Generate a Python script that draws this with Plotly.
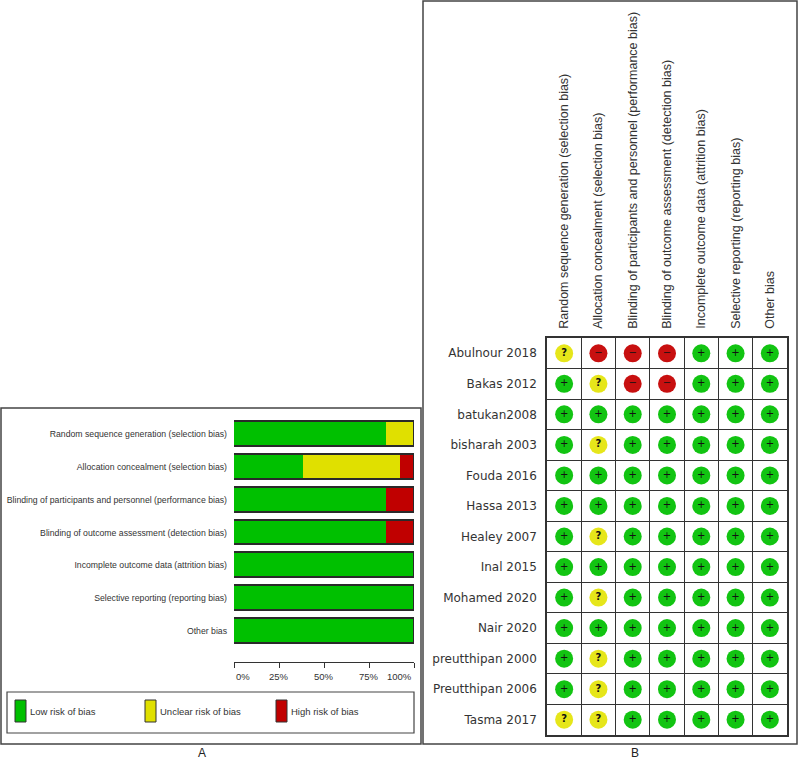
import plotly.graph_objects as go

W, H = 798, 761

domains = [
    "Random sequence generation (selection bias)",
    "Allocation concealment (selection bias)",
    "Blinding of participants and personnel (performance bias)",
    "Blinding of outcome assessment (detection bias)",
    "Incomplete outcome data (attrition bias)",
    "Selective reporting (reporting bias)",
    "Other bias",
]

studies = [
    "Abulnour 2018", "Bakas 2012", "batukan2008", "bisharah 2003", "Fouda 2016",
    "Hassa 2013", "Healey 2007", "Inal 2015", "Mohamed 2020", "Nair 2020",
    "preutthipan 2000", "Preutthipan 2006", "Tasma 2017",
]

# L = low, U = unclear, H = high (one row per study, one column per domain)
judgements = [
    ["U", "H", "H", "H", "L", "L", "L"],
    ["L", "U", "H", "H", "L", "L", "L"],
    ["L", "L", "L", "L", "L", "L", "L"],
    ["L", "U", "L", "L", "L", "L", "L"],
    ["L", "L", "L", "L", "L", "L", "L"],
    ["L", "L", "L", "L", "L", "L", "L"],
    ["L", "U", "L", "L", "L", "L", "L"],
    ["L", "L", "L", "L", "L", "L", "L"],
    ["L", "U", "L", "L", "L", "L", "L"],
    ["L", "L", "L", "L", "L", "L", "L"],
    ["L", "U", "L", "L", "L", "L", "L"],
    ["L", "U", "L", "L", "L", "L", "L"],
    ["U", "U", "L", "L", "L", "L", "L"],
]

levels = ["L", "U", "H"]
level_names = {"L": "Low risk of bias", "U": "Unclear risk of bias", "H": "High risk of bias"}
bar_colors = {"L": "#00c000", "U": "#e0e000", "H": "#c00000"}
dot_colors = {"L": "#12c412", "U": "#e6e61a", "H": "#c81010"}
dot_text = {"L": "+", "U": "<b>?</b>", "H": "−"}
pct_ticks = [0, 25, 50, 75, 100]


def px_x(p):
    return p / W


def px_y(p):
    return 1 - p / H


n_st = len(studies)
pct = {lv: [sum(1 for row in judgements if row[j] == lv) / n_st * 100 for j in range(len(domains))]
       for lv in levels}

fig = go.Figure()

# panel A: summary bars
for lv in levels:
    fig.add_trace(go.Bar(
        x=pct[lv], y=list(range(len(domains))), orientation="h",
        marker=dict(color=bar_colors[lv], line=dict(width=0)),
        width=0.76, xaxis="x", yaxis="y", showlegend=False, hoverinfo="x+name",
        name=level_names[lv],
    ))
# outline of each full bar on an overlaid axis
fig.add_trace(go.Bar(
    x=[100] * len(domains), y=list(range(len(domains))), orientation="h",
    marker=dict(color="rgba(0,0,0,0)", line=dict(color="#2a2a2a", width=1.5)),
    width=0.76, xaxis="x3", yaxis="y", showlegend=False, hoverinfo="skip",
))

# panel B: traffic lights
for lv in levels:
    xs, ys = [], []
    for i, row in enumerate(judgements):
        for j, v in enumerate(row):
            if v == lv:
                xs.append(j)
                ys.append(i)
    fig.add_trace(go.Scatter(
        x=xs, y=ys, mode="markers+text", xaxis="x2", yaxis="y2",
        marker=dict(color=dot_colors[lv], size=18, line=dict(width=0)),
        text=[dot_text[lv]] * len(xs), textposition="middle center",
        textfont=dict(family="DejaVu Sans", size=10, color="#111"),
        showlegend=False, name=level_names[lv],
    ))

narrow = "Liberation Sans, Arial"
fs_a = 8.7

fig.update_layout(
    width=W, height=H, margin=dict(l=0, r=0, t=0, b=0),
    paper_bgcolor="white", plot_bgcolor="white",
    barmode="stack", bargap=0,
    font=dict(family=narrow, size=fs_a, color="#333"),
    xaxis=dict(domain=[px_x(234), px_x(414)], range=[0, 100], anchor="free",
               position=px_y(662), showline=True, linecolor="#333", linewidth=1,
               tickvals=pct_ticks, showticklabels=False, ticks="outside", ticklen=5,
               tickcolor="#333", showgrid=False, zeroline=False, fixedrange=True,
               automargin=False),
    xaxis3=dict(domain=[px_x(234), px_x(414)], range=[0, 100], overlaying="x",
                visible=False, fixedrange=True, automargin=False),
    yaxis=dict(domain=[px_y(647.5), px_y(417.5)], range=[len(domains) - 0.5, -0.5],
               tickvals=list(range(len(domains))), ticktext=domains, ticks="",
               ticklabelstandoff=6, showgrid=False, zeroline=False,
               tickfont=dict(family=narrow, size=fs_a, color="#333"), anchor="x",
               fixedrange=True, automargin=False),
    xaxis2=dict(domain=[px_x(547), px_x(787)], range=[-0.5, len(domains) - 0.5],
                side="top", anchor="y2", tickvals=list(range(len(domains))),
                ticktext=domains, tickangle=-90, ticks="", ticklabelstandoff=5,
                tickfont=dict(family="Liberation Sans, Arial", size=12.5, color="#333"),
                showgrid=False, zeroline=False, showline=True, mirror=True,
                linecolor="#333", linewidth=1.5,
                minor=dict(tick0=0.5, dtick=1, showgrid=True, gridcolor="#333",
                           gridwidth=1), fixedrange=True, automargin=False),
    yaxis2=dict(domain=[px_y(735), px_y(338)], range=[n_st - 0.5, -0.5], anchor="x2",
                tickvals=list(range(n_st)), ticktext=studies, ticks="",
                ticklabelstandoff=6,
                tickfont=dict(family="DejaVu Sans, Verdana", size=12, color="#333"),
                showgrid=False, zeroline=False, showline=True, mirror=True,
                linecolor="#333", linewidth=1.5,
                minor=dict(tick0=0.5, dtick=1, showgrid=True, gridcolor="#333",
                           gridwidth=1), fixedrange=True, automargin=False),
)

# percentage tick labels (first left-aligned, last right-aligned, like the original)
for k, t in enumerate(pct_ticks):
    anchor = "left" if k == 0 else ("right" if k == len(pct_ticks) - 1 else "center")
    fig.add_annotation(x=t, y=px_y(676), xref="x", yref="paper", text=f"{t}%",
                       showarrow=False, xanchor=anchor, yanchor="middle",
                       font=dict(family=narrow, size=9.5, color="#333"))

# panel frames
fig.add_shape(type="rect", xref="paper", yref="paper", x0=px_x(1), x1=px_x(421),
              y0=px_y(744), y1=px_y(408), line=dict(color="#444", width=1.5))
fig.add_shape(type="rect", xref="paper", yref="paper", x0=px_x(423), x1=px_x(797),
              y0=px_y(744), y1=px_y(1), line=dict(color="#444", width=1.5))

# legend box of panel A
fig.add_shape(type="rect", xref="paper", yref="paper", x0=px_x(7), x1=px_x(414),
              y0=px_y(733), y1=px_y(692), line=dict(color="#444", width=1.2))
for lv, sx in zip(levels, [15, 145, 276]):
    fig.add_shape(type="rect", xref="paper", yref="paper", x0=px_x(sx), x1=px_x(sx + 11),
                  y0=px_y(722), y1=px_y(700), fillcolor=bar_colors[lv],
                  line=dict(color="#333", width=1))
    fig.add_annotation(x=px_x(sx + 13), y=px_y(711), xref="paper", yref="paper",
                       text=level_names[lv], showarrow=False, xanchor="left",
                       yanchor="middle", font=dict(family=narrow, size=9.5, color="#333"))

for lbl, lx in (("A", 197), ("B", 640)):
    fig.add_annotation(x=px_x(lx), y=px_y(745), xref="paper", yref="paper", text=lbl,
                       showarrow=False, yanchor="top", borderpad=0,
                       font=dict(family="Liberation Sans, Arial", size=12, color="#222"))

# drop the page's default 8px body margin so the figure sits at the window origin
fig.write_html("out.html", config={"displayModeBar": False},
               post_script="document.body.style.margin='0';")
